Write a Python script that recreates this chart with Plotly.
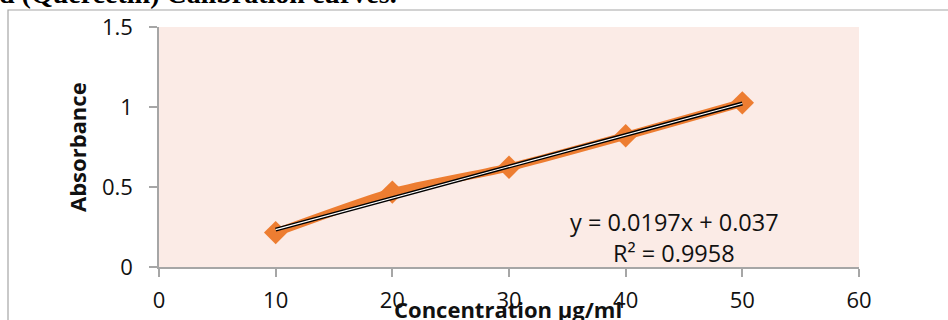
import numpy as np
import plotly.graph_objects as go

# Data
concentration = [10, 20, 30, 40, 50]
absorbance = [0.215, 0.468, 0.623, 0.820, 1.026]
slope = 0.0197
intercept = 0.037
equation_text = "y = 0.0197x + 0.037"
r2_text = "R² = 0.9958"
x_ticks = [0, 10, 20, 30, 40, 50, 60]
y_ticks = [0, 0.5, 1, 1.5]
y_tick_labels = ["0", "0.5", "1", "1.5"]
title_text = "d (Quercetin) Calibration curves."
x_title = "Concentration µg/ml"
y_title = "Absorbance"

W, H = 948, 320
L, R, T, B = 159, 89, 27, 53
PW, PH = W - L - R, H - T - B


def px(x):
    return (x - L) / PW


def py(y):
    return (H - B - y) / PH


trend_x = np.array([concentration[0], concentration[-1]])
trend_y = slope * trend_x + intercept

fig = go.Figure()
fig.add_trace(go.Scatter(
    x=concentration, y=absorbance, mode="lines+markers",
    line=dict(color="#ED7D31", width=8, shape="spline", smoothing=0.6),
    marker=dict(symbol="diamond", size=18, color="#ED7D31"),
    showlegend=False, hoverinfo="skip"))
fig.add_trace(go.Scatter(
    x=trend_x, y=trend_y, mode="lines",
    line=dict(color="black", width=4), showlegend=False, hoverinfo="skip"))
fig.add_trace(go.Scatter(
    x=trend_x, y=trend_y, mode="lines",
    line=dict(color="white", width=1.2), showlegend=False, hoverinfo="skip"))

font_family = "Open Sans, Noto Sans, sans-serif"
axis_common = dict(
    showline=True, linecolor="#A6A6A6", linewidth=1.5,
    ticks="outside", ticklen=8, tickcolor="#A6A6A6", tickwidth=1.5,
    showgrid=False, zeroline=False, automargin=False,
    tickfont=dict(family=font_family, size=22, color="#111111"),
)
fig.update_xaxes(range=[0, 60], tickvals=x_ticks, ticklabelstandoff=5, **axis_common)
fig.update_yaxes(range=[0, 1.5], tickvals=y_ticks, ticktext=y_tick_labels,
                 ticklabelstandoff=12, **axis_common)

fig.update_layout(
    template="none",
    width=W, height=H,
    margin=dict(l=L, r=R, t=T, b=B, pad=0, autoexpand=False),
    plot_bgcolor="#FBEBE6", paper_bgcolor="white",
    showlegend=False,
)

annotations = [
    dict(text=f"<b>{title_text}</b>", xref="paper", yref="paper",
         x=px(-3), y=py(-7), xanchor="left", yanchor="middle", showarrow=False,
         font=dict(family="Liberation Serif, Times New Roman, serif", size=28, color="black")),
    dict(text=f"<b>{x_title}</b>", xref="paper", yref="paper",
         x=px(508), y=py(309), xanchor="center", yanchor="middle", showarrow=False,
         font=dict(family=font_family, size=22, color="#111111")),
    dict(text=f"<b>{y_title}</b>", xref="paper", yref="paper",
         x=px(77), y=py(147), xanchor="center", yanchor="middle", showarrow=False,
         textangle=-90,
         font=dict(family=font_family, size=22, color="#111111")),
    dict(text=equation_text, xref="paper", yref="paper",
         x=px(674), y=py(222), xanchor="center", yanchor="middle", showarrow=False,
         font=dict(family=font_family, size=23.5, color="#111111")),
    dict(text=r2_text, xref="paper", yref="paper",
         x=px(674), y=py(253), xanchor="center", yanchor="middle", showarrow=False,
         font=dict(family=font_family, size=23.5, color="#111111")),
]
fig.update_layout(annotations=annotations)

fig.add_shape(type="rect", xref="paper", yref="paper",
              x0=px(8), y0=py(340), x1=px(970), y1=py(10),
              line=dict(color="#A6A6A6", width=1.2), fillcolor="rgba(0,0,0,0)", layer="below")

fig.write_html("out.html", config={"displayModeBar": False},
               post_script="document.body.style.margin='0';document.body.style.padding='0';"
                           "document.body.style.overflow='hidden';")
